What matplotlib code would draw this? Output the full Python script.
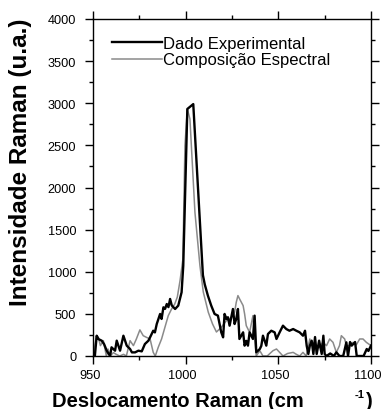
import matplotlib
matplotlib.use("Agg")
import matplotlib.pyplot as plt
from matplotlib.ticker import MultipleLocator
from matplotlib.transforms import ScaledTranslation

# experimental Raman spectrum (black)
exp_x = [951, 952, 953, 954.7, 956, 957.4, 959.2, 960, 961.9, 962.8, 964.6, 966.4,
         968.2, 970, 971, 972.7, 974.5, 976.3, 978, 979.9, 980.8, 982.5, 983.4,
         984.4, 986.2, 987, 988, 988.9, 989.8, 990.7, 991.6, 992.5, 994.3, 996,
         997.8, 998.7, 1000.9, 1004.1, 1009.3, 1010.3, 1012, 1013.8, 1015.6,
         1017.4, 1019.2, 1020.2, 1021, 1022, 1022.8, 1023.7, 1025.5, 1026.4,
         1027.3, 1028.2, 1029, 1031, 1031.8, 1032.7, 1033.6, 1034.5, 1036.3,
         1037.2, 1038.1, 1040, 1040.8, 1041.7, 1043.5, 1044.4, 1046.2, 1048, 1049,
         1050.7, 1052.5, 1054.3, 1056, 1058, 1059.7, 1061.5, 1063.3, 1064.4,
         1065.3, 1066.2, 1067, 1068, 1068.9, 1069.8, 1070.7, 1072, 1073.4, 1074.3,
         1075, 1076, 1078, 1080, 1081.3, 1083, 1085, 1086.7, 1087.6, 1088.7,
         1089.6, 1091.4, 1092.3, 1094, 1096, 1097.7, 1098.6, 1100]
exp_y = [0, 241, 200, 182, 140, 63, 0, 103, 63, 182, 63, 241,
         123, 83, 43, 43, 63, 55, 142, 182, 222, 300, 280,
         380, 499, 440, 578, 560, 617, 580, 677, 600, 558, 598,
         756, 1070, 2932, 2990, 960, 850, 716, 598, 499,
         479, 281, 222, 499, 440, 460, 360, 558, 380,
         440, 558, 202, 281, 123, 180, 123, 281, 202,
         479, 44, 83, 120, 241, 123, 261, 300, 281, 202,
         281, 360, 320, 300, 320, 300, 281, 241, 300,
         122, 24, 123, 182, 24, 225, 24, 182, 24, 241,
         24, 0, 30, 0, 44, 0, 0, 162, 0, 166,
         123, 166, 0, 0, 0, 83, 60, 123]

# fitted spectral composition (gray)
fit_x = [950.2, 951.8, 952.9, 954, 955.6, 957.2, 958.1, 959.2, 961, 962.5, 964.4,
         966.5, 968, 970, 971.8, 973.4, 975.3, 977.1, 978.8, 980.8, 982.5, 983.6,
         985.2, 987, 988.8, 990.6, 992.4, 994.1, 995.5, 997, 998.5, 999.6, 1000.9,
         1002.3, 1005, 1007.7, 1009.5, 1012.2, 1014.5, 1016.6, 1019.2, 1022,
         1023.7, 1025.5, 1026.4, 1027.3, 1028.2, 1029.1, 1031, 1031.8, 1032.7,
         1034.5, 1036.3, 1037.2, 1038.1, 1040, 1041.7, 1044, 1047.1, 1049, 1050.7,
         1052.5, 1055, 1058, 1059.7, 1061.5, 1063.3, 1065, 1067, 1067.8, 1068.7,
         1070.5, 1072.3, 1074, 1076, 1077.7, 1079.5, 1081.3, 1083, 1084, 1085.8,
         1086.7, 1088.5, 1090.3, 1092, 1093.9, 1095.7, 1097.5, 1100]
fit_y = [0, 241, 220, 123, 182, 0, 83, 0, 40, 20, 0,
         20, 0, 182, 123, 202, 310, 241, 222, 202, 43, 0,
         103, 202, 340, 478, 558, 617, 700, 900, 1150, 2496, 2932,
         2813, 1706, 1072, 760, 520, 380, 285, 340, 420,
         440, 479, 519, 638, 717, 677, 598, 500, 360,
         281, 479, 202, 0, 63, 0, 0, 63, 83, 43,
         0, 30, 43, 20, 0, 43, 0, 202, 123, 162,
         123, 100, 162, 123, 202, 162, 43, 123, 241, 202,
         123, 123, 162, 130, 202, 202, 162, 123]

plt.rcParams["font.family"] = ["Liberation Sans", "DejaVu Sans"]

W, H = 382, 410
fig = plt.figure(figsize=(W / 100, H / 100), dpi=100)
ax = fig.add_axes([93 / W, 53 / H, 278 / W, 337 / H])

ax.plot(exp_x, exp_y, color="black", lw=1.7, label="Dado Experimental", zorder=3)
ax.plot(fit_x, fit_y, color="#8a8a8a", lw=1.1, label="Composição Espectral", zorder=2)

ax.set_xlim(950, 1100)
ax.set_ylim(0, 4000)
ax.xaxis.set_major_locator(MultipleLocator(50))
ax.xaxis.set_minor_locator(MultipleLocator(25))
ax.yaxis.set_major_locator(MultipleLocator(500))
ax.yaxis.set_minor_locator(MultipleLocator(250))
ax.tick_params(which="both", direction="out", top=True, right=True,
               labeltop=False, labelright=False, width=1, labelsize=9.2)
ax.tick_params(which="major", length=5.5)
ax.tick_params(which="minor", length=3)
ax.tick_params(axis="x", pad=4)
ax.tick_params(axis="y", pad=6.5)
for sp in ax.spines.values():
    sp.set_linewidth(1)

# x tick labels sit a few pixels left of their ticks, keeps "1100" inside the figure
shift = ScaledTranslation(-3 / 100, 0, fig.dpi_scale_trans)
for lbl in ax.get_xticklabels():
    lbl.set_transform(lbl.get_transform() + shift)

ax.legend(loc="upper left", frameon=False, fontsize=12, handlelength=3.0,
          handletextpad=0.1, labelspacing=0.1, borderaxespad=0,
          bbox_to_anchor=(12 / 278, 1 - 10 / 337))

# axis titles; the x title ends in a raised "-1" followed by ")"
fig.text(21 / W, 1 - 162 / H, "Intensidade Raman (u.a.)", rotation=90, ha="center",
         va="center", fontsize=17.5, fontweight="bold")
fig.text(52 / W, 3 / H, "Deslocamento Raman (cm", ha="left", va="baseline",
         fontsize=14.5, fontweight="bold")
fig.text(360 / W, 1 - 395 / H, "-1", ha="center", va="center", fontsize=8,
         fontweight="bold")
fig.text(369 / W, 3 / H, ")", ha="center", va="baseline", fontsize=14.5,
         fontweight="bold")

fig.savefig("out.png", dpi=100)
